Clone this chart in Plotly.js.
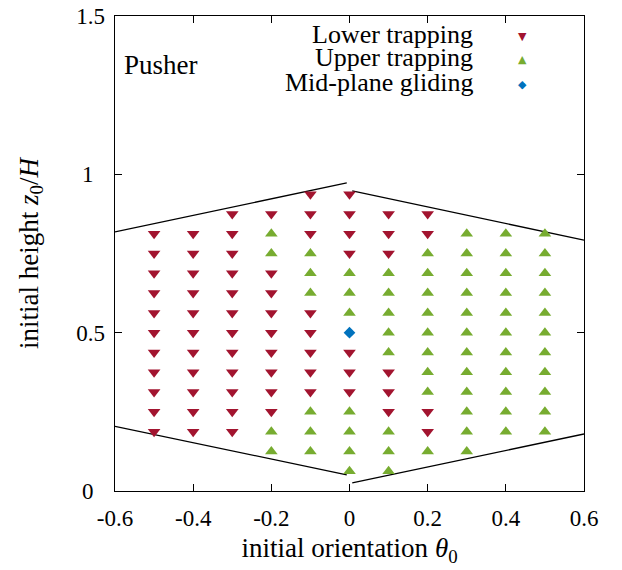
<!DOCTYPE html>
<html>
<head>
<meta charset="utf-8">
<script src="https://cdn.plot.ly/plotly-3.0.1.min.js"></script>
<style>html,body{margin:0;padding:0;background:#fff;}</style>
</head>
<body>
<div id="chart" style="width:622px;height:570px;"></div>
<script>
// ---- data ----
const lowerTheta = [-0.5, -0.4, -0.3, -0.2, -0.1, 0, 0.1, 0.2];
const lowerZ = [
  [0.1875,0.25,0.3125,0.375,0.4375,0.5,0.5625,0.625,0.6875,0.75,0.8125],
  [0.1875,0.25,0.3125,0.375,0.4375,0.5,0.5625,0.625,0.6875,0.75,0.8125],
  [0.1875,0.25,0.3125,0.375,0.4375,0.5,0.5625,0.625,0.6875,0.75,0.8125,0.875],
  [0.25,0.3125,0.375,0.4375,0.5,0.5625,0.625,0.6875,0.875],
  [0.3125,0.375,0.4375,0.5,0.5625,0.8125,0.875,0.9375],
  [0.3125,0.375,0.4375,0.75,0.8125,0.875,0.9375],
  [0.25,0.3125,0.375,0.75,0.8125,0.875],
  [0.1875,0.25,0.8125,0.875]
];
const upperTheta = [-0.2, -0.1, 0, 0.1, 0.2, 0.3, 0.4, 0.5];
const upperZ = [
  [0.125,0.1875,0.75,0.8125],
  [0.125,0.1875,0.25,0.625,0.6875,0.75],
  [0.0625,0.125,0.1875,0.25,0.5625,0.625,0.6875],
  [0.0625,0.125,0.1875,0.4375,0.5,0.5625,0.625,0.6875],
  [0.125,0.3125,0.375,0.4375,0.5,0.5625,0.625,0.6875,0.75],
  [0.125,0.1875,0.25,0.3125,0.375,0.4375,0.5,0.5625,0.625,0.6875,0.75,0.8125],
  [0.1875,0.25,0.3125,0.375,0.4375,0.5,0.5625,0.625,0.6875,0.75,0.8125],
  [0.1875,0.25,0.3125,0.375,0.4375,0.5,0.5625,0.625,0.6875,0.75,0.8125]
];
const midTheta = [0];
const midZ = [0.5];

// boundary lines (four segments)
const boundUpperLeftTheta = [-0.6, -0.007];
const boundUpperLeftZ = [0.818, 0.973];
const boundUpperRightTheta = [0.007, 0.6];
const boundUpperRightZ = [0.948, 0.792];
const boundLowerLeftTheta = [-0.6, -0.007];
const boundLowerLeftZ = [0.204, 0.051];
const boundLowerRightTheta = [0.007, 0.6];
const boundLowerRightZ = [0.026, 0.180];

const xTicks = [-0.6, -0.4, -0.2, 0, 0.2, 0.4, 0.6];
const xTickText = ['-0.6', '-0.4', '-0.2', '0', '0.2', '0.4', '0.6'];
const yTicks = [0, 0.5, 1, 1.5];
const yTickText = ['0\u2007', '0.5', '1\u2007', '1.5'];

const legendLabels = ['Lower trapping', 'Upper trapping', 'Mid-plane gliding'];

// ---- build ----
function flatten(thetas, zs) {
  const x = [], y = [];
  thetas.forEach((t, i) => zs[i].forEach(z => { x.push(t); y.push(z); }));
  return {x, y};
}
const lo = flatten(lowerTheta, lowerZ);
const up = flatten(upperTheta, upperZ);

const RED = '#A2142F', GREEN = '#77AC30', BLUE = '#0072BD';
const FONT = 'Liberation Serif, Times New Roman, serif';
const TXT = 27, LEG = 26, TICK = 23;

function lineTrace(x, y) {
  return {x, y, type: 'scatter', mode: 'lines', line: {color: '#000', width: 1.3}, showlegend: false, hoverinfo: 'skip'};
}

const traces = [
  lineTrace(boundUpperLeftTheta, boundUpperLeftZ),
  lineTrace(boundUpperRightTheta, boundUpperRightZ),
  lineTrace(boundLowerLeftTheta, boundLowerLeftZ),
  lineTrace(boundLowerRightTheta, boundLowerRightZ),
  {x: lo.x, y: lo.y, type: 'scatter', mode: 'markers', name: legendLabels[0],
   marker: {symbol: 'triangle-down', size: 11, color: RED}, showlegend: false},
  {x: up.x, y: up.y, type: 'scatter', mode: 'markers', name: legendLabels[1],
   marker: {symbol: 'triangle-up', size: 11, color: GREEN}, showlegend: false},
  {x: midTheta, y: midZ, type: 'scatter', mode: 'markers', name: legendLabels[2],
   marker: {symbol: 'diamond', size: 9, color: BLUE}, showlegend: false}
];

const legColors = [RED, GREEN, BLUE];
const legGlyphs = ['\u25BC', '\u25B2', '\u25C6'];
const legY = [0.962, 0.913, 0.860];
const annotations = [];
legendLabels.forEach((lab, i) => {
  annotations.push({xref: 'paper', yref: 'paper', x: 0.767, y: legY[i], xanchor: 'right', yanchor: 'middle',
    text: lab, showarrow: false, font: {family: FONT, size: LEG, color: '#000'}});
  annotations.push({xref: 'paper', yref: 'paper', x: 0.868, y: legY[i] - 0.005, xanchor: 'center', yanchor: 'middle',
    text: legGlyphs[i], showarrow: false, font: {family: 'DejaVu Sans', size: 11, color: legColors[i]}});
});
annotations.push({xref: 'paper', yref: 'paper', x: 0.015, y: 0.897, xanchor: 'left', yanchor: 'middle',
  text: 'Pusher', showarrow: false, font: {family: FONT, size: TXT, color: '#000'}});

const layout = {
  width: 622, height: 570,
  margin: {l: 115, r: 38, t: 16, b: 79},
  paper_bgcolor: '#fff', plot_bgcolor: '#fff',
  font: {family: FONT, size: TXT, color: '#000'},
  showlegend: false,
  xaxis: {
    range: [-0.6, 0.6], tickmode: 'array', tickvals: xTicks, ticktext: xTickText,
    ticks: 'inside', ticklen: 7, tickwidth: 1.2, tickcolor: '#000',
    showline: true, linecolor: '#000', linewidth: 1.3, mirror: 'ticks',
    showgrid: false, zeroline: false, ticklabelstandoff: 6,
    tickfont: {family: FONT, size: TICK, color: '#000'},
    title: {text: 'initial orientation <i>θ</i><sub>0</sub>', font: {family: FONT, size: TXT, color: '#000'}, standoff: 8}
  },
  yaxis: {
    range: [0, 1.5], tickmode: 'array', tickvals: yTicks, ticktext: yTickText,
    ticks: 'inside', ticklen: 7, tickwidth: 1.2, tickcolor: '#000',
    showline: true, linecolor: '#000', linewidth: 1.3, mirror: 'ticks',
    showgrid: false, zeroline: false, ticklabelstandoff: 4,
    tickfont: {family: FONT, size: TICK, color: '#000'},
    title: {text: 'initial height <i>z</i><sub>0</sub>/<i>H</i>', font: {family: FONT, size: TXT, color: '#000'}, standoff: 30}
  },
  annotations: annotations
};

Plotly.newPlot('chart', traces, layout, {displayModeBar: false, staticPlot: true});
</script>
</body>
</html>
